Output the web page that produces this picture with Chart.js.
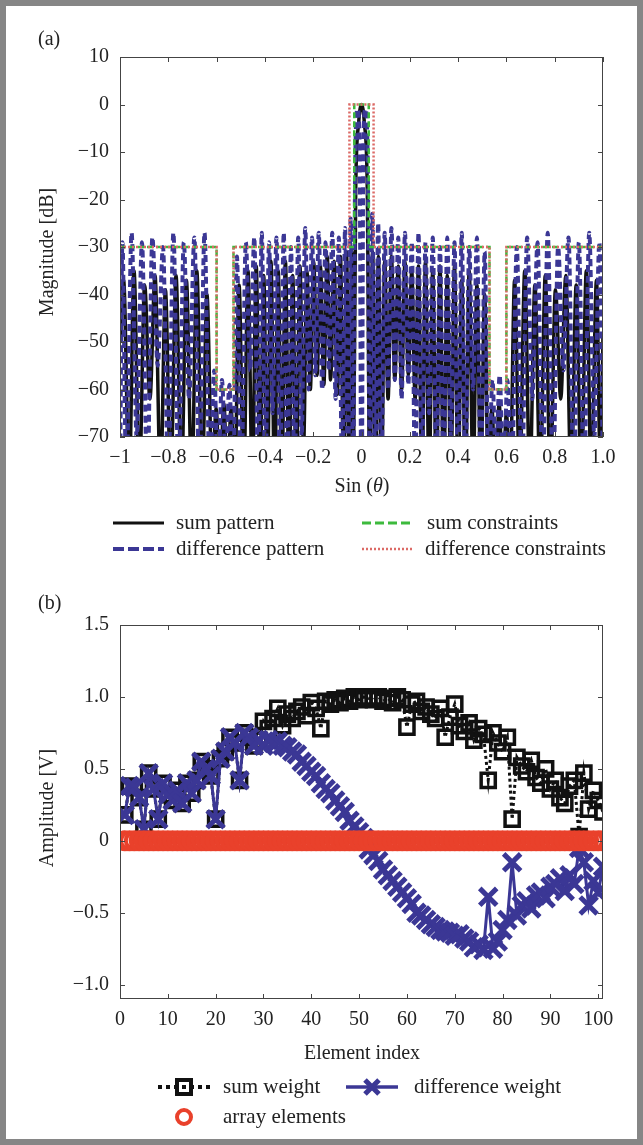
<!DOCTYPE html>
<html>
<head>
<meta charset="utf-8">
<script src="https://cdn.jsdelivr.net/npm/chart.js@4.4.1/dist/chart.umd.min.js"></script>
<style>
  html, body { margin: 0; padding: 0; background: #fff; }
  #page { position: relative; width: 643px; height: 1145px; overflow: hidden; }
  #page canvas { position: absolute; left: 0; }
  #frame { position: absolute; left: 0; top: 0; width: 643px; height: 1145px; box-sizing: border-box;
           border: 6px solid #868686; pointer-events: none; }
</style>
</head>
<body>
<div id="page">
  <canvas id="chartA" width="643" height="572" style="top:0"></canvas>
  <canvas id="chartB" width="643" height="573" style="top:572px"></canvas>
  <div id="frame"></div>
</div>
<script>
// ---- (a) beam patterns ----
const sumU = [
  -1.000,-0.985,-0.962,-0.942,-0.920,-0.898,-0.876,-0.855,-0.832,-0.812,
  -0.790,-0.768,-0.746,-0.725,-0.703,-0.682,-0.660,-0.640,-0.618,-0.602,
  -0.586,-0.570,-0.555,-0.540,-0.525,-0.507,-0.488,-0.470,-0.452,-0.436,
  -0.420,-0.405,-0.390,-0.375,-0.360,-0.345,-0.330,-0.315,-0.300,-0.285,
  -0.270,-0.255,-0.240,-0.226,-0.212,-0.198,-0.184,-0.170,-0.156,-0.142,
  -0.128,-0.114,-0.100,-0.087,-0.074,-0.062,-0.050,-0.040,-0.034,-0.024,
  -0.012,0,0.012,0.024,0.034,0.046,0.058,0.070,0.083,0.096,
  0.110,0.124,0.138,0.152,0.166,0.180,0.194,0.208,0.222,0.236,
  0.250,0.265,0.280,0.295,0.310,0.325,0.340,0.355,0.370,0.385,
  0.400,0.415,0.430,0.446,0.462,0.478,0.494,0.510,0.525,0.540,
  0.555,0.570,0.585,0.600,0.615,0.634,0.655,0.676,0.697,0.718,
  0.740,0.761,0.782,0.803,0.825,0.846,0.868,0.889,0.910,0.931,
  0.952,0.973,0.990,1.000
];
const sumDb = [
  -50,-37,-80,-35,-80,-38,-62,-36,-80,-39,
  -80,-36,-80,-37,-80,-35,-80,-40,-80,-64,
  -80,-63,-80,-64,-80,-38,-80,-35,-80,-34,
  -80,-36,-80,-33,-80,-35,-80,-33,-80,-36,
  -80,-34,-72,-35,-60,-33,-57,-34,-59,-32,
  -58,-33,-61,-32,-80,-31,-80,-31,-80,-18,
  -4,0,-4,-18,-80,-31,-80,-32,-80,-33,
  -62,-32,-58,-34,-60,-33,-57,-35,-62,-34,
  -80,-33,-80,-35,-80,-34,-80,-36,-80,-34,
  -80,-37,-80,-35,-80,-38,-80,-40,-80,-64,
  -80,-63,-80,-65,-80,-37,-80,-35,-80,-38,
  -80,-36,-80,-39,-62,-36,-80,-38,-80,-35,
  -80,-37,-80,-48
];
const diffU = [
  -1.000,-0.990,-0.974,-0.952,-0.931,-0.909,-0.887,-0.866,-0.844,-0.822,
  -0.800,-0.779,-0.757,-0.736,-0.714,-0.692,-0.671,-0.650,-0.628,-0.610,
  -0.594,-0.578,-0.562,-0.547,-0.532,-0.516,-0.498,-0.479,-0.461,-0.444,
  -0.428,-0.413,-0.398,-0.383,-0.368,-0.352,-0.337,-0.322,-0.307,-0.292,
  -0.277,-0.262,-0.248,-0.233,-0.219,-0.205,-0.191,-0.177,-0.163,-0.149,
  -0.135,-0.121,-0.107,-0.094,-0.080,-0.068,-0.056,-0.045,-0.034,-0.026,
  -0.016,-0.008,0,0.008,0.016,0.026,0.034,0.045,0.057,0.069,
  0.082,0.096,0.110,0.124,0.138,0.152,0.166,0.180,0.194,0.208,
  0.222,0.236,0.250,0.265,0.280,0.295,0.310,0.325,0.340,0.355,
  0.370,0.385,0.400,0.415,0.430,0.446,0.462,0.478,0.494,0.510,
  0.526,0.542,0.557,0.572,0.588,0.604,0.622,0.643,0.664,0.686,
  0.707,0.729,0.750,0.771,0.793,0.814,0.836,0.857,0.879,0.900,
  0.921,0.943,0.964,0.985,1.000
];
const diffDb = [
  -80,-29,-80,-27,-70,-29,-80,-28,-55,-30,
  -80,-27,-80,-29,-62,-28,-80,-27,-80,-56,
  -80,-58,-75,-59,-80,-32,-80,-29,-56,-28,
  -80,-27,-80,-29,-65,-28,-80,-27,-80,-30,
  -80,-28,-70,-26,-60,-28,-57,-27,-60,-29,
  -56,-27,-62,-28,-80,-26,-80,-24,-80,-12,
  -1,-8,-90,-8,-1,-12,-80,-23,-80,-25,
  -80,-27,-60,-26,-58,-28,-62,-27,-59,-29,
  -80,-27,-80,-29,-65,-28,-80,-30,-80,-28,
  -70,-29,-80,-27,-80,-30,-60,-28,-80,-31,
  -80,-58,-75,-57,-80,-58,-80,-30,-80,-28,
  -62,-29,-80,-27,-80,-30,-56,-28,-80,-29,
  -80,-27,-70,-29,-80
];
// constraint masks
const sumMaskU  = [-1, -0.6, -0.6, -0.53, -0.53, -0.03, -0.03, 0.03, 0.03, 0.53, 0.53, 0.6, 0.6, 1];
const sumMaskDb = [-30, -30, -60, -60, -30, -30, 0, 0, -30, -30, -60, -60, -30, -30];
const diffMaskU  = [-1, -0.6, -0.6, -0.53, -0.53, -0.05, -0.05, 0.05, 0.05, 0.53, 0.53, 0.6, 0.6, 1];
const diffMaskDb = [-30, -30, -60, -60, -30, -30, 0, 0, -30, -30, -60, -60, -30, -30];
const uTicks = [-1, -0.8, -0.6, -0.4, -0.2, 0, 0.2, 0.4, 0.6, 0.8, 1];

// ---- (b) element weights ----
const elementIndex = [
  1,2,3,4,5,6,7,8,9,10,11,12,13,14,15,16,17,18,19,20,
  21,22,23,24,25,26,27,28,29,30,31,32,33,34,35,36,37,38,39,40,
  41,42,43,44,45,46,47,48,49,50,51,52,53,54,55,56,57,58,59,60,
  61,62,63,64,65,66,67,68,69,70,71,72,73,74,75,76,77,78,79,80,
  81,82,83,84,85,86,87,88,89,90,91,92,93,94,95,96,97,98,99,100,101
];
const sumWeight = [
  0.18,0.38,0.37,0.30,0.08,0.47,0.36,0.15,0.40,0.32,
  0.28,0.35,0.26,0.40,0.33,0.42,0.55,0.50,0.45,0.15,
  0.57,0.62,0.72,0.68,0.42,0.75,0.72,0.66,0.70,0.83,
  0.78,0.85,0.92,0.80,0.88,0.85,0.90,0.93,0.87,0.96,
  0.92,0.78,0.97,0.95,0.98,0.96,0.99,0.97,1.00,0.98,
  1.00,0.99,0.98,1.00,0.97,0.99,0.96,1.00,0.98,0.79,
  0.95,0.97,0.90,0.93,0.88,0.85,0.92,0.72,0.86,0.95,
  0.80,0.76,0.82,0.70,0.78,0.74,0.42,0.75,0.68,0.62,
  0.72,0.15,0.58,0.52,0.48,0.56,0.44,0.40,0.50,0.36,
  0.42,0.30,0.26,0.38,0.42,0.03,0.47,0.22,0.35,0.28,
  0.20
];
const diffWeight = [
  0.18,0.38,0.37,0.30,0.08,0.47,0.36,0.15,0.40,0.32,
  0.28,0.35,0.26,0.40,0.33,0.42,0.55,0.50,0.45,0.15,
  0.57,0.62,0.72,0.68,0.42,0.75,0.72,0.66,0.70,0.66,
  0.70,0.68,0.69,0.66,0.65,0.62,0.60,0.55,0.52,0.48,
  0.45,0.40,0.36,0.33,0.28,0.24,0.20,0.14,0.10,0.06,
  0.02,-0.06,-0.10,-0.14,-0.20,-0.24,-0.28,-0.32,-0.36,-0.40,
  -0.44,-0.50,-0.52,-0.55,-0.58,-0.60,-0.62,-0.63,-0.64,-0.66,
  -0.65,-0.68,-0.70,-0.74,-0.72,-0.76,-0.39,-0.75,-0.70,-0.62,
  -0.55,-0.15,-0.52,-0.45,-0.42,-0.47,-0.38,-0.36,-0.40,-0.32,
  -0.30,-0.26,-0.35,-0.24,-0.30,-0.05,-0.15,-0.45,-0.28,-0.36,
  -0.18
];
const arrayElementY = [
  0,0,0,0,0,0,0,0,0,0,0,0,0,0,0,0,0,0,0,0,
  0,0,0,0,0,0,0,0,0,0,0,0,0,0,0,0,0,0,0,0,
  0,0,0,0,0,0,0,0,0,0,0,0,0,0,0,0,0,0,0,0,
  0,0,0,0,0,0,0,0,0,0,0,0,0,0,0,0,0,0,0,0,
  0,0,0,0,0,0,0,0,0,0,0,0,0,0,0,0,0,0,0,0,0
];
const indexTicks = [0, 10, 20, 30, 40, 50, 60, 70, 80, 90, 100];
const ampTicks = [-1, -0.5, 0, 0.5, 1, 1.5];

// ---- styling ----
const SERIF = '"Liberation Serif", "DejaVu Serif", serif';
const INK = '#222';
const BLACK = '#111';
const BLUE = '#3b3795';
const GREEN = '#3dba3d';
const RED = '#dc6a66';
const ORANGE_RED = '#e9412b';

const pts = (xs, ys) => xs.map((x, i) => ({ x: x, y: ys[i] }));
const minus = s => String(s).replace('-', '\u2212');

// inward ticks + box, like the original figure
const boxTicks = {
  id: 'boxTicks',
  afterDatasetsDraw(chart) {
    const { ctx, chartArea: a } = chart;
    const sx = chart.scales.x, sy = chart.scales.y;
    ctx.save();
    ctx.strokeStyle = '#444';
    ctx.lineWidth = 1;
    ctx.strokeRect(a.left + 0.5, a.top + 0.5, a.right - a.left - 1, a.bottom - a.top - 1);
    ctx.beginPath();
    sx.ticks.forEach(t => {
      const px = Math.round(sx.getPixelForValue(t.value)) + 0.5;
      ctx.moveTo(px, a.bottom); ctx.lineTo(px, a.bottom - 5);
      ctx.moveTo(px, a.top); ctx.lineTo(px, a.top + 5);
    });
    sy.ticks.forEach(t => {
      const py = Math.round(sy.getPixelForValue(t.value)) + 0.5;
      ctx.moveTo(a.left, py); ctx.lineTo(a.left + 5, py);
      ctx.moveTo(a.right, py); ctx.lineTo(a.right - 5, py);
    });
    ctx.stroke();
    ctx.restore();
  }
};

function label(ctx, s, x, y, size, align) {
  ctx.font = size + 'px ' + SERIF;
  ctx.fillStyle = INK;
  ctx.textAlign = align || 'left';
  ctx.textBaseline = 'middle';
  ctx.fillText(s, x, y);
}
function vlabel(ctx, s, x, y, size) {
  ctx.save();
  ctx.translate(x, y);
  ctx.rotate(-Math.PI / 2);
  label(ctx, s, 0, 0, size, 'center');
  ctx.restore();
}
function seg(ctx, x1, x2, y, color, width, dash) {
  ctx.save();
  ctx.strokeStyle = color;
  ctx.lineWidth = width;
  ctx.setLineDash(dash || []);
  ctx.beginPath();
  ctx.moveTo(x1, y); ctx.lineTo(x2, y);
  ctx.stroke();
  ctx.restore();
}

const decorA = {
  id: 'decorA',
  afterDraw(chart) {
    const ctx = chart.ctx;
    ctx.save();
    label(ctx, '(a)', 38, 40, 20);
    vlabel(ctx, 'Magnitude [dB]', 48, 252, 20);
    // x title with italic theta
    const y = 487;
    ctx.font = '20px ' + SERIF;
    const w1 = ctx.measureText('Sin (').width;
    const w3 = ctx.measureText(')').width;
    ctx.font = 'italic 20px ' + SERIF;
    const w2 = ctx.measureText('\u03b8').width;
    const x = 362 - (w1 + w2 + w3) / 2;
    label(ctx, 'Sin (', x, y, 20);
    ctx.font = 'italic 20px ' + SERIF;
    ctx.textAlign = 'left';
    ctx.fillText('\u03b8', x + w1, y);
    label(ctx, ')', x + w1 + w2, y, 20);
    // legend
    seg(ctx, 113, 164, 523, BLACK, 3);
    label(ctx, 'sum pattern', 176, 523, 21);
    seg(ctx, 113, 164, 549, BLUE, 4, [11, 4]);
    label(ctx, 'difference pattern', 176, 549, 21);
    seg(ctx, 362, 412, 523, GREEN, 3, [9, 4]);
    label(ctx, 'sum constraints', 427, 523, 21);
    seg(ctx, 362, 412, 549, RED, 2.5, [2, 2]);
    label(ctx, 'difference constraints', 425, 549, 21);
    ctx.restore();
  }
};

const decorB = {
  id: 'decorB',
  afterDraw(chart) {
    const ctx = chart.ctx;
    ctx.save();
    label(ctx, '(b)', 38, 32, 20);
    vlabel(ctx, 'Amplitude [V]', 48, 236, 20);
    label(ctx, 'Element index', 362, 482, 20, 'center');
    // legend row 1: sum weight
    const r1 = 515, r2 = 545;
    seg(ctx, 158, 210, r1, BLACK, 4, [4, 4]);
    ctx.fillStyle = '#fff';
    ctx.fillRect(175, r1 - 9, 18, 18);
    ctx.strokeStyle = BLACK; ctx.lineWidth = 4;
    ctx.strokeRect(177, r1 - 7, 14, 14);
    ctx.fillStyle = BLACK;
    ctx.fillRect(182, r1 - 2, 4, 4);
    label(ctx, 'sum weight', 223, r1, 21);
    // difference weight
    seg(ctx, 346, 398, r1, BLUE, 3.5);
    ctx.strokeStyle = BLUE; ctx.lineWidth = 5;
    ctx.beginPath();
    ctx.moveTo(365, r1 - 7); ctx.lineTo(379, r1 + 7);
    ctx.moveTo(379, r1 - 7); ctx.lineTo(365, r1 + 7);
    ctx.stroke();
    label(ctx, 'difference weight', 414, r1, 21);
    // array elements
    ctx.strokeStyle = ORANGE_RED; ctx.lineWidth = 4;
    ctx.beginPath();
    ctx.arc(184, r2, 7, 0, Math.PI * 2);
    ctx.stroke();
    label(ctx, 'array elements', 223, r2, 21);
    ctx.restore();
  }
};

const tickFont = { family: SERIF, size: 20 };

// ---- chart (a) ----
new Chart(document.getElementById('chartA').getContext('2d'), {
  type: 'line',
  data: {
    datasets: [
      {
        label: 'difference constraints',
        data: pts(diffMaskU, diffMaskDb),
        borderColor: RED, borderWidth: 2.5, borderDash: [2, 2],
        pointRadius: 0, order: 0
      },
      {
        label: 'sum constraints',
        data: pts(sumMaskU, sumMaskDb),
        borderColor: GREEN, borderWidth: 2.5, borderDash: [6, 3],
        pointRadius: 0, order: 1
      },
      {
        label: 'difference pattern',
        data: pts(diffU, diffDb),
        borderColor: BLUE, borderWidth: 4, borderDash: [7, 4],
        cubicInterpolationMode: 'monotone',
        pointRadius: 0, order: 2
      },
      {
        label: 'sum pattern',
        data: pts(sumU, sumDb),
        borderColor: BLACK, borderWidth: 3.5,
        cubicInterpolationMode: 'monotone',
        pointRadius: 0, order: 3
      }
    ]
  },
  options: {
    responsive: false,
    devicePixelRatio: 1,
    animation: false,
    layout: { padding: { top: 57, right: 40, bottom: 95, left: 0 } },
    scales: {
      x: {
        type: 'linear', min: -1, max: 1,
        afterBuildTicks: s => { s.ticks = uTicks.map(v => ({ value: v })); },
        afterFit: s => { s.height = 40; },
        grid: { display: false, drawTicks: false },
        border: { display: false },
        ticks: {
          font: tickFont, color: INK, padding: 9, maxRotation: 0, autoSkip: false,
          callback: v => {
            const r = Math.round(v * 10) / 10;
            if (r === 0) return '0';
            if (r === 1) return '1.0';
            if (r === -1) return '\u22121';
            return minus(r.toFixed(1));
          }
        }
      },
      y: {
        min: -70, max: 10,
        afterFit: s => { s.width = 120; },
        grid: { display: false, drawTicks: false },
        border: { display: false },
        ticks: { stepSize: 10, font: tickFont, color: INK, padding: 11, callback: v => minus(v) }
      }
    },
    plugins: { legend: { display: false }, tooltip: { enabled: false } }
  },
  plugins: [boxTicks, decorA]
});

// ---- chart (b) ----
new Chart(document.getElementById('chartB').getContext('2d'), {
  type: 'line',
  data: {
    datasets: [
      {
        label: 'array elements',
        data: pts(elementIndex, arrayElementY),
        showLine: false,
        pointStyle: 'circle', pointRadius: 8.5, pointBorderWidth: 4,
        pointBorderColor: ORANGE_RED, pointBackgroundColor: 'rgba(0,0,0,0)',
        borderColor: ORANGE_RED, order: 0
      },
      {
        label: 'difference weight',
        data: pts(elementIndex, diffWeight),
        borderColor: BLUE, borderWidth: 3,
        pointStyle: 'crossRot', pointRadius: 12, pointBorderWidth: 5,
        pointBorderColor: BLUE, order: 1
      },
      {
        label: 'sum weight',
        data: pts(elementIndex, sumWeight),
        borderColor: BLACK, borderWidth: 3, borderDash: [3, 3],
        pointStyle: 'rect', pointRadius: 10, pointBorderWidth: 3.5,
        pointBorderColor: BLACK, pointBackgroundColor: 'rgba(0,0,0,0)', order: 2
      }
    ]
  },
  options: {
    responsive: false,
    devicePixelRatio: 1,
    animation: false,
    layout: { padding: { top: 53, right: 40, bottom: 106, left: 0 } },
    scales: {
      x: {
        type: 'linear', min: 0, max: 101,
        afterBuildTicks: s => { s.ticks = indexTicks.map(v => ({ value: v })); },
        afterFit: s => { s.height = 40; },
        grid: { display: false, drawTicks: false },
        border: { display: false },
        ticks: { font: tickFont, color: INK, padding: 9, maxRotation: 0, autoSkip: false }
      },
      y: {
        min: -1.1, max: 1.5,
        afterBuildTicks: s => { s.ticks = ampTicks.map(v => ({ value: v })); },
        afterFit: s => { s.width = 120; },
        grid: { display: false, drawTicks: false },
        border: { display: false },
        ticks: {
          font: tickFont, color: INK, padding: 11,
          callback: v => (v === 0 ? '0' : minus(Number(v).toFixed(1)))
        }
      }
    },
    plugins: { legend: { display: false }, tooltip: { enabled: false } }
  },
  plugins: [boxTicks, decorB]
});
</script>
</body>
</html>
